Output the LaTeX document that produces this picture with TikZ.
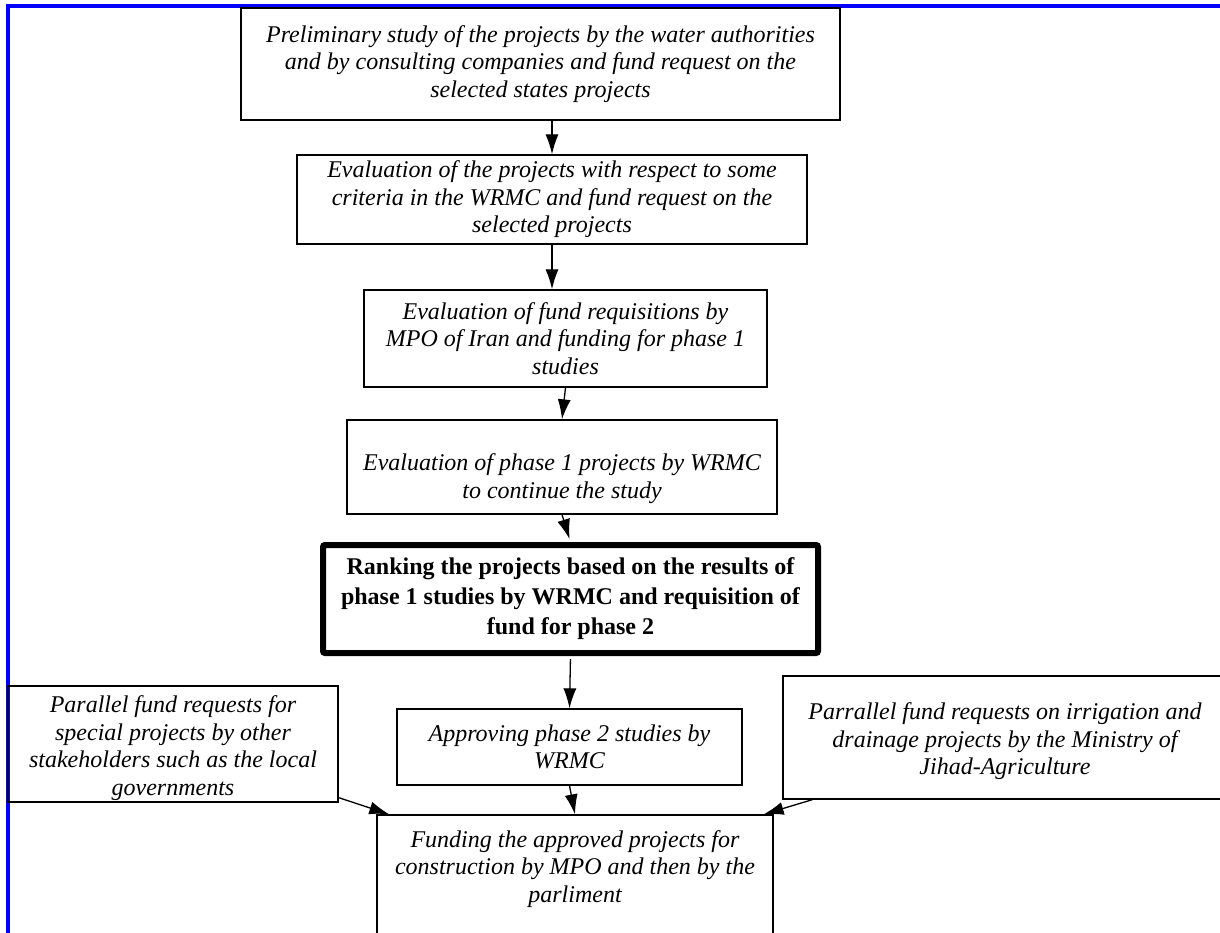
\documentclass[tikz,border=0pt]{standalone}
\usepackage{fontspec}
\setmainfont{Liberation Serif}
\usetikzlibrary{arrows.meta}

\tikzset{
	stage/.style={draw, line width=1.3pt, align=center, inner sep=0pt, font=\fontsize{24}{27.5}\selectfont\itshape},
	keystage/.style={draw, line width=6pt, rounded corners=2pt, align=center, inner sep=0pt, font=\fontsize{24}{30}\selectfont\bfseries},
	arrow/.style={-{Latex[length=20pt,width=13pt]}, line width=1.3pt},
	frame/.style={blue, line width=4pt}
}

\begin{document}
\begin{tikzpicture}[x=1pt,y=-1pt]
\useasboundingbox (0,0) rectangle (1220,933);
\clip (0,0) rectangle (1220,933);

\draw [frame] (7.5,940) -- (7.5,6.5) -- (1230,6.5);

\node (prelim) at (540.5,64) [stage,minimum width=599pt,minimum height=112pt] {Preliminary study of the projects by the water authorities\\and by consulting companies and fund request on the\\selected states projects};
\node (evalcrit) at (552,199.5) [stage,minimum width=510pt,minimum height=89pt] {Evaluation of the projects with respect to some\\criteria in the WRMC and fund request on the\\selected projects};
\node (fundreq) at (565.5,338.5) [stage,minimum width=403pt,minimum height=97pt] {Evaluation of fund requisitions by\\MPO of Iran and funding for phase 1\\studies};
\node (phaseone) at (562,467) [stage,minimum width=430pt,minimum height=94pt] {\rule{0pt}{40pt}Evaluation of phase 1 projects by WRMC\\to continue the study};
\node (rank) at (570.5,599) [keystage,minimum width=495pt,minimum height=108pt] {Ranking the projects based on the results of\\phase 1 studies by WRMC and requisition of\\fund for phase 2};
\node (approve) at (569.5,747) [stage,minimum width=345pt,minimum height=76pt] {Approving phase 2 studies by\\WRMC};
\node (fund) at (575,894) [stage,minimum width=396pt,minimum height=158pt] {Funding the approved projects for\\construction by MPO and then by the\\parliment\\~\\~};

\node (parleft) at (173,744) [stage,minimum width=330pt,minimum height=116pt] {\rule{0pt}{25pt}Parallel fund requests for\\special projects by other\\stakeholders such as the local\\governments};
\node (parright) at (1005,737.5) [stage,minimum width=444pt,minimum height=123pt] {\rule{0pt}{25pt}Parrallel fund requests on irrigation and\\drainage projects by the Ministry of\\Jihad-Agriculture};

\draw [arrow] (prelim.south -| evalcrit.north) -- (evalcrit.north);
\draw [arrow] (evalcrit.south) -- (evalcrit.south |- fundreq.north);
\draw [arrow] (fundreq.south) -- (phaseone.north);
\draw [arrow, shorten >=3pt] (phaseone.south) -- (rank.north);
\draw [arrow, shorten <=3pt] (rank.south) -- (approve.north);
\draw [arrow] (approve.south) -- (fund.north);
\draw [arrow] ([yshift=5pt]parleft.south east) -- ([xshift=13pt]fund.north west);
\draw [arrow] ([xshift=30pt]parright.south west) -- ([xshift=-10pt]fund.north east);
\end{tikzpicture}
\end{document}
